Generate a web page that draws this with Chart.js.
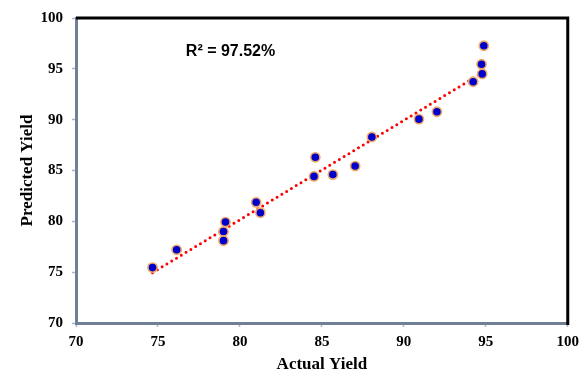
<!DOCTYPE html>
<html>
<head>
<meta charset="utf-8">
<script src="https://cdn.jsdelivr.net/npm/chart.js@4/dist/chart.umd.min.js"></script>
<style>
  html, body { margin: 0; padding: 0; background: #fff; }
  #wrap { width: 585px; height: 374px; position: relative; }
</style>
</head>
<body>
<div id="wrap"><canvas id="c"></canvas></div>
<script>
// data
const actual = [74.67, 76.14, 79.12, 79.0, 79.0, 80.99, 81.25, 84.6, 84.52, 85.67, 87.03, 88.05, 90.92, 92.02, 94.23, 94.78, 94.74, 94.88];
const predicted = [75.45, 77.2, 79.93, 79.0, 78.1, 81.87, 80.85, 86.3, 84.42, 84.6, 85.44, 88.3, 90.05, 90.78, 93.73, 94.5, 95.45, 97.27];
const trendX = [74.67, 94.88];
const trendY = [74.95, 94.7];
const ticks = [70, 75, 80, 85, 90, 95, 100];
const r2Label = "R\u00B2 = 97.52%";

const serif = "'Liberation Serif', 'Times New Roman', serif";
const sans = "'Liberation Sans', Arial, sans-serif";

// black top/right frame + R² label
const framePlugin = {
  id: "frame",
  afterDraw(chart) {
    const { ctx, chartArea: a, scales } = chart;
    ctx.save();
    ctx.strokeStyle = "#000";
    ctx.lineWidth = 3;
    ctx.beginPath();
    ctx.moveTo(a.left, a.top);
    ctx.lineTo(a.right, a.top);
    ctx.lineTo(a.right, a.bottom + 2);
    ctx.stroke();
    ctx.fillStyle = "#000";
    ctx.font = "bold 16px " + sans;
    ctx.textBaseline = "middle";
    ctx.fillText(r2Label, scales.x.getPixelForValue(76.7), scales.y.getPixelForValue(96.65));
    ctx.restore();
  }
};

new Chart(document.getElementById("c"), {
  type: "scatter",
  data: {
    datasets: [
      {
        data: actual.map((x, i) => ({ x, y: predicted[i] })),
        backgroundColor: "#0000cc",
        borderColor: "#f0a868",
        borderWidth: 1.6,
        pointRadius: 4.6,
        order: 1
      },
      {
        type: "line",
        data: trendX.map((x, i) => ({ x, y: trendY[i] })),
        borderColor: "#ff0000",
        borderWidth: 3,
        borderDash: [0, 5.6],
        borderCapStyle: "round",
        pointRadius: 0,
        fill: false,
        order: 2
      }
    ]
  },
  options: {
    responsive: true,
    maintainAspectRatio: false,
    animation: false,
    layout: { padding: { top: 18, right: 17, left: 0, bottom: 0 } },
    plugins: { legend: { display: false }, tooltip: { enabled: false } },
    scales: {
      x: {
        type: "linear", min: 70, max: 100,
        afterBuildTicks: (s) => { s.ticks = ticks.map((v) => ({ value: v })); },
        afterFit: (s) => { s.height = 51; },
        ticks: { color: "#000", font: { family: serif, size: 15, weight: "bold" }, padding: 6 },
        grid: { drawOnChartArea: false, tickLength: 4, tickColor: "#a9b8cc", tickWidth: 1.5 },
        border: { color: "#6f7f95", width: 3 },
        title: { display: true, text: "Actual Yield", color: "#000", font: { family: serif, size: 17, weight: "bold", lineHeight: 1.1 }, padding: { top: 0, bottom: 0 } }
      },
      y: {
        type: "linear", min: 70, max: 100,
        afterBuildTicks: (s) => { s.ticks = ticks.map((v) => ({ value: v })); },
        afterFit: (s) => { s.width = 76; },
        ticks: { color: "#000", font: { family: serif, size: 15, weight: "bold" }, padding: 9 },
        grid: { drawOnChartArea: false, tickLength: 4, tickColor: "#a9b8cc", tickWidth: 1.5 },
        border: { color: "#6f7f95", width: 3 },
        title: { display: true, text: "Predicted Yield", color: "#000", font: { family: serif, size: 17, weight: "bold" }, padding: { top: 17, bottom: 0 } }
      }
    }
  },
  plugins: [framePlugin]
});
</script>
</body>
</html>
